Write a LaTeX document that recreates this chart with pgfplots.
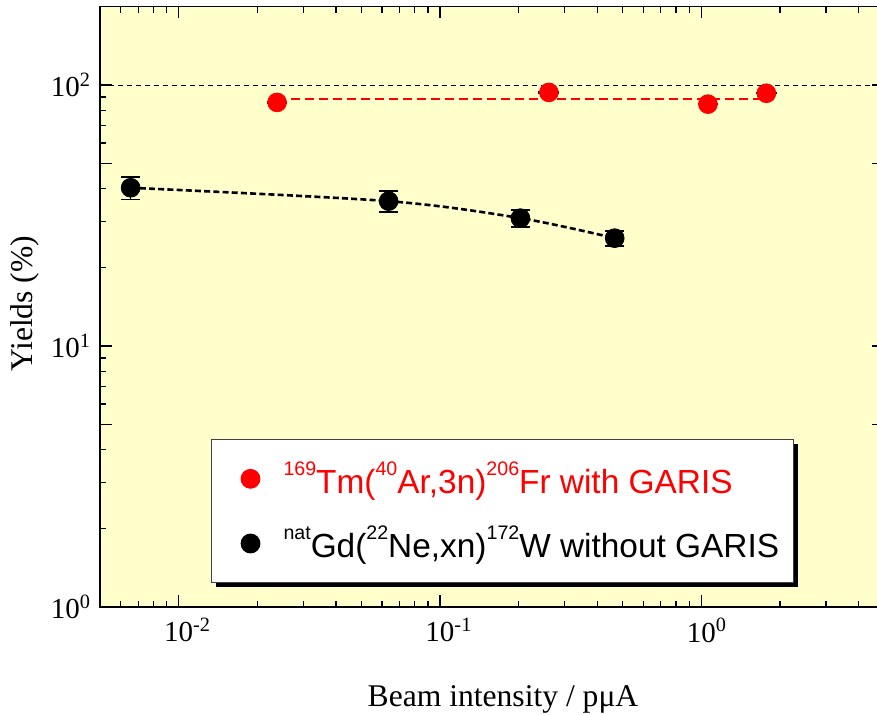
\documentclass[border=0pt]{standalone}
\usepackage{fontspec}
\setmainfont{Liberation Serif}
\newfontfamily\legfont{Liberation Sans}
\usepackage{pgfplots}
\pgfplotsset{compat=1.18}
\usetikzlibrary{shadows}
\definecolor{bgyellow}{HTML}{FFFFCC}
\newcommand\sps[1]{\raisebox{9pt}{\fontsize{9.8}{10}\selectfont #1}}
\begin{document}
\begin{tikzpicture}
\begin{axis}[
  name=ax,
  scale only axis,
  width=392pt, height=300.25pt,
  xmode=log, ymode=log,
  xmin=0.005, xmax=5, ymin=1, ymax=200,
  axis background/.style={fill=bgyellow},
  axis line style={line width=0.8pt},
  every tick/.style={black, line width=0.6pt},
  major tick length=6pt, minor tick length=3.25pt,
  xtick={0.01,0.1,1},
  xticklabels={10\rlap{\textsuperscript{-2}},10\rlap{\textsuperscript{-1}},10\rlap{\textsuperscript{0}}},
  minor xtick={0.006,0.007,0.008,0.009,0.02,0.03,0.04,0.05,0.06,0.07,0.08,0.09,0.2,0.3,0.4,0.5,0.6,0.7,0.8,0.9,2,3,4},
  ytick={1,5,10,50,100},
  yticklabels={10\textsuperscript{0},{},10\textsuperscript{1},{},10\textsuperscript{2}},
  minor ytick={2,3,4,6,7,8,9,20,30,40,60,70,80,90},
  /pgf/number format/assume math mode=true,
  tick label style={font=\fontsize{14.5}{16}\selectfont},
  yticklabel style={xshift=-1pt},
  xticklabel style={yshift=-2pt},
  xlabel={Beam intensity / pμA},
  ylabel={Yields (\%)},
  label style={font=\fontsize{15.8}{18}\selectfont},
  xlabel style={at={(axis description cs:0.514,-0.1665)}, anchor=base},
  ylabel style={at={(axis description cs:-0.0957,0.505)}, anchor=center},
  legend style={at={(axis description cs:0.1416,0.2798)}, anchor=north west,
    draw=black!75, line width=0.5pt, fill=white,
    drop shadow={shadow xshift=2.2pt, shadow yshift=-2.2pt, fill=black, opacity=1},
    inner xsep=4pt, inner ysep=8pt, row sep=9pt, column sep=8.8pt,
    nodes={inner sep=3pt},
    font=\legfont\fontsize{16.7}{19}\selectfont},
  legend cell align=left,
  legend image code/.code={%
    \pgfpathmoveto{\pgfpointorigin}\pgfpathlineto{\pgfpoint{20.2pt}{0pt}}\pgfusepath{discard}%
    \draw[#1] plot coordinates {(15.5pt,0pt)};},
]
\coordinate (SW) at (rel axis cs:0,0);
\coordinate (NW) at (rel axis cs:0,1);
% reference line at 100 %
\addplot[black, line width=0.5pt, dash pattern=on 2.5pt off 2pt, forget plot] coordinates {(0.005,100) (5,100)};
% red mean line
\addplot[red, line width=1.4pt, dash pattern=on 4.5pt off 2.5pt, forget plot] coordinates {(0.0238,88.4) (1.774,88.4)};
% black connecting line
\addplot[black, line width=1.3pt, dash pattern=on 3pt off 1.6pt, smooth, forget plot] coordinates {(0.00655,40.4) (0.0636,35.9) (0.2031,30.9) (0.4662,25.9)};
% red points
\addplot[only marks, mark=*, mark size=4.7pt, color=red,
  error bars/.cd, y dir=both, y explicit,
  error bar style={black, line width=0.6pt},
  error mark options={rotate=90, mark size=5.2pt, black, line width=0.6pt}]
  coordinates {(0.0238,85.8) +- (0,0.5) (0.261,93.7) +- (0,0.5) (1.06,84.5) +- (0,0.5) (1.774,93.0) +- (0,0.5)};
\addlegendentry{\textcolor{red}{\sps{169}Tm(\sps{40}Ar,3n)\sps{206}Fr with GARIS}}
% black points
\addplot[only marks, mark=*, mark size=4.7pt, color=black,
  error bars/.cd, y dir=both, y explicit,
  error bar style={black, line width=0.7pt},
  error mark options={rotate=90, mark size=4.8pt, black, line width=0.7pt}]
  coordinates {(0.00655,40.4) +- (0,4.0) (0.0636,35.9) +- (0,3.3) (0.2031,30.9) +- (0,2.3) (0.4662,25.9) +- (0,1.7)};
\addlegendentry{\sps{nat}Gd(\sps{22}Ne,xn)\sps{172}W without GARIS}
\end{axis}
\pgfresetboundingbox
\path[use as bounding box] ([xshift=-50pt,yshift=-54pt]SW) rectangle ([xshift=388.5pt,yshift=3.25pt]NW);
\end{tikzpicture}
\end{document}
